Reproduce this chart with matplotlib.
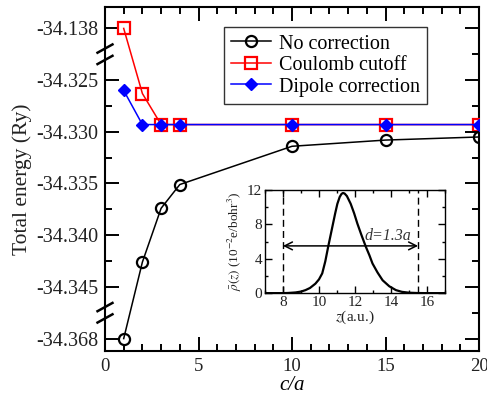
import matplotlib
matplotlib.use("Agg")
import matplotlib.pyplot as plt
import matplotlib.transforms as mtransforms
from matplotlib.ticker import MultipleLocator, FixedLocator

plt.rcParams['font.family'] = ['Liberation Serif', 'DejaVu Serif']
plt.rcParams['mathtext.fontset'] = 'stix'

# ---- data ----
ca = [1, 2, 3, 4, 10, 15, 20]
no_corr = [-34.368, -34.3426, -34.3374, -34.3351, -34.3314, -34.3308, -34.3305]
coulomb = [-34.138, -34.3263, -34.3293, -34.3293, -34.3293, -34.3293, -34.3293]
dipole = [-34.3260, -34.3293, -34.3293, -34.3293, -34.3293, -34.3293, -34.3293]

ytick_values = [-34.138, -34.325, -34.330, -34.335, -34.340, -34.345, -34.368]
ytick_labels = ['-34.138', '-34.325', '-34.330', '-34.335', '-34.340', '-34.345', '-34.368']

# inset density profile
z = [7.0, 7.5, 8.0, 8.3, 8.7, 9.0, 9.25, 9.5, 9.8, 10.0, 10.18, 10.35, 10.51, 10.74,
     10.9, 11.02, 11.15, 11.25, 11.33, 11.42, 11.55, 11.76, 11.95, 12.13, 12.35, 12.6,
     12.8, 12.97, 13.25, 13.53, 13.9, 14.27, 14.6, 15.0, 15.5, 16.0, 17.0]
rho = [0.0, 0.0, 0.0, 0.02, 0.08, 0.18, 0.35, 0.6, 1.1, 1.6, 2.3, 3.7, 5.4, 7.7,
       9.3, 10.4, 11.2, 11.55, 11.66, 11.6, 11.3, 10.4, 9.3, 8.1, 6.8, 5.4,
       4.4, 3.45, 2.4, 1.5, 0.8, 0.35, 0.15, 0.05, 0.01, 0.0, 0.0]
z_box = [8.0, 15.5]
arrow_y = 5.5


# broken-axis mapping: outliers placed one tick step outside the linear range
def ymap(v):
    if v > -34.30:
        return -34.320
    if v < -34.36:
        return -34.350
    return v


fig = plt.figure(figsize=(4.87, 4.01), dpi=100)
ax = fig.add_axes([0.2156, 0.1247, 0.768, 0.8586])

ax.plot(ca, [ymap(v) for v in no_corr], '-o', color='black', lw=1.1,
        mfc='none', mec='black', ms=8, mew=1.6, label='No correction', zorder=3)
ax.plot(ca, [ymap(v) for v in coulomb], '-s', color='red', lw=1.1,
        mfc='none', mec='red', ms=8.5, mew=1.6, label='Coulomb cutoff', zorder=4)
ax.plot(ca, [ymap(v) for v in dipole], '-D', color='blue', lw=1.1,
        mfc='blue', mec='blue', ms=6, label='Dipole correction', zorder=5)

ax.set_xlim(0, 20)
ax.set_ylim(-34.3512, -34.3179)
ax.xaxis.set_major_locator(MultipleLocator(5))
ax.xaxis.set_minor_locator(MultipleLocator(1))
ax.set_yticks([ymap(v) for v in ytick_values])
ax.set_yticklabels(ytick_labels)
ax.yaxis.set_minor_locator(FixedLocator([-34.3275, -34.3325, -34.3375, -34.3425]))

ax.tick_params(axis='both', which='both', direction='in', top=True, right=False,
               labelsize=14.5, width=1.4, colors='black', labelcolor='#222222')
ax.tick_params(axis='x', which='major', labelsize=13.5)
ax.tick_params(axis='both', which='major', length=10, pad=5)
ax.tick_params(axis='both', which='minor', length=5)
for s in ax.spines.values():
    s.set_linewidth(1.5)

# right-side ticks (regular, no break)
axr = ax.twinx()
axr.set_ylim(ax.get_ylim())
axr.yaxis.set_major_locator(MultipleLocator(0.005))
axr.yaxis.set_minor_locator(MultipleLocator(0.0025))
axr.tick_params(axis='y', which='both', direction='in', labelright=False, width=1.4)
axr.tick_params(axis='y', which='major', length=10)
axr.tick_params(axis='y', which='minor', length=5)
for s in axr.spines.values():
    s.set_visible(False)

ax.set_xlabel('c/a', fontsize=15, style='italic', labelpad=1)
ax.set_ylabel('Total energy (Ry)', fontsize=15.5, labelpad=3, color='#222222')

# break marks on the left spine
trans = mtransforms.blended_transform_factory(ax.transAxes, ax.transData)
for yc in (-34.3225, -34.3475):
    for dy in (-0.00055, 0.00055):
        ax.plot([-0.02, 0.02], [yc + dy - 0.0004, yc + dy + 0.0004], color='black',
                lw=1.8, transform=trans, clip_on=False, zorder=6)

leg = ax.legend(loc='upper left', bbox_to_anchor=(0.318, 0.94), fontsize=14.5,
                frameon=True, fancybox=False, edgecolor='black', handlelength=2.0,
                borderpad=0.35, labelspacing=0.12, handletextpad=0.4, borderaxespad=0)
leg.get_frame().set_linewidth(1.0)

# ---- inset ----
axi = fig.add_axes([0.544, 0.269, 0.370, 0.257])
axi.plot(z, rho, color='black', lw=1.6)
for zb in z_box:
    axi.axvline(zb, color='black', lw=1.0, ls=(0, (5, 3)))
axi.annotate('', xy=(z_box[0], arrow_y), xytext=(z_box[1], arrow_y),
             arrowprops=dict(arrowstyle='<->', color='black', lw=1.1,
                             shrinkA=0, shrinkB=0, mutation_scale=14))
axi.text(12.5, 6.2, 'd=1.3a', fontsize=11.5, style='italic', color='#333333')
axi.set_xlim(7, 17)
axi.set_ylim(0, 12)
axi.xaxis.set_major_locator(MultipleLocator(2))
axi.xaxis.set_minor_locator(MultipleLocator(1))
axi.yaxis.set_major_locator(MultipleLocator(4))
axi.yaxis.set_minor_locator(MultipleLocator(2))
axi.tick_params(axis='both', which='both', direction='in', top=True, right=True,
                labelsize=11, width=1.0, labelcolor='#222222')
axi.tick_params(axis='both', which='major', length=5, pad=2)
axi.tick_params(axis='both', which='minor', length=2.5)
for s in axi.spines.values():
    s.set_linewidth(1.0)
axi.set_xlabel(r'$z$(a.u.)', fontsize=11, labelpad=0, color='#222222')
axi.set_ylabel(r'$\bar{\rho}(z)$ (10$^{-2}$e/bohr$^{3}$)', fontsize=9.5, labelpad=2,
               color='#222222')

fig.savefig('out.png', dpi=100)
